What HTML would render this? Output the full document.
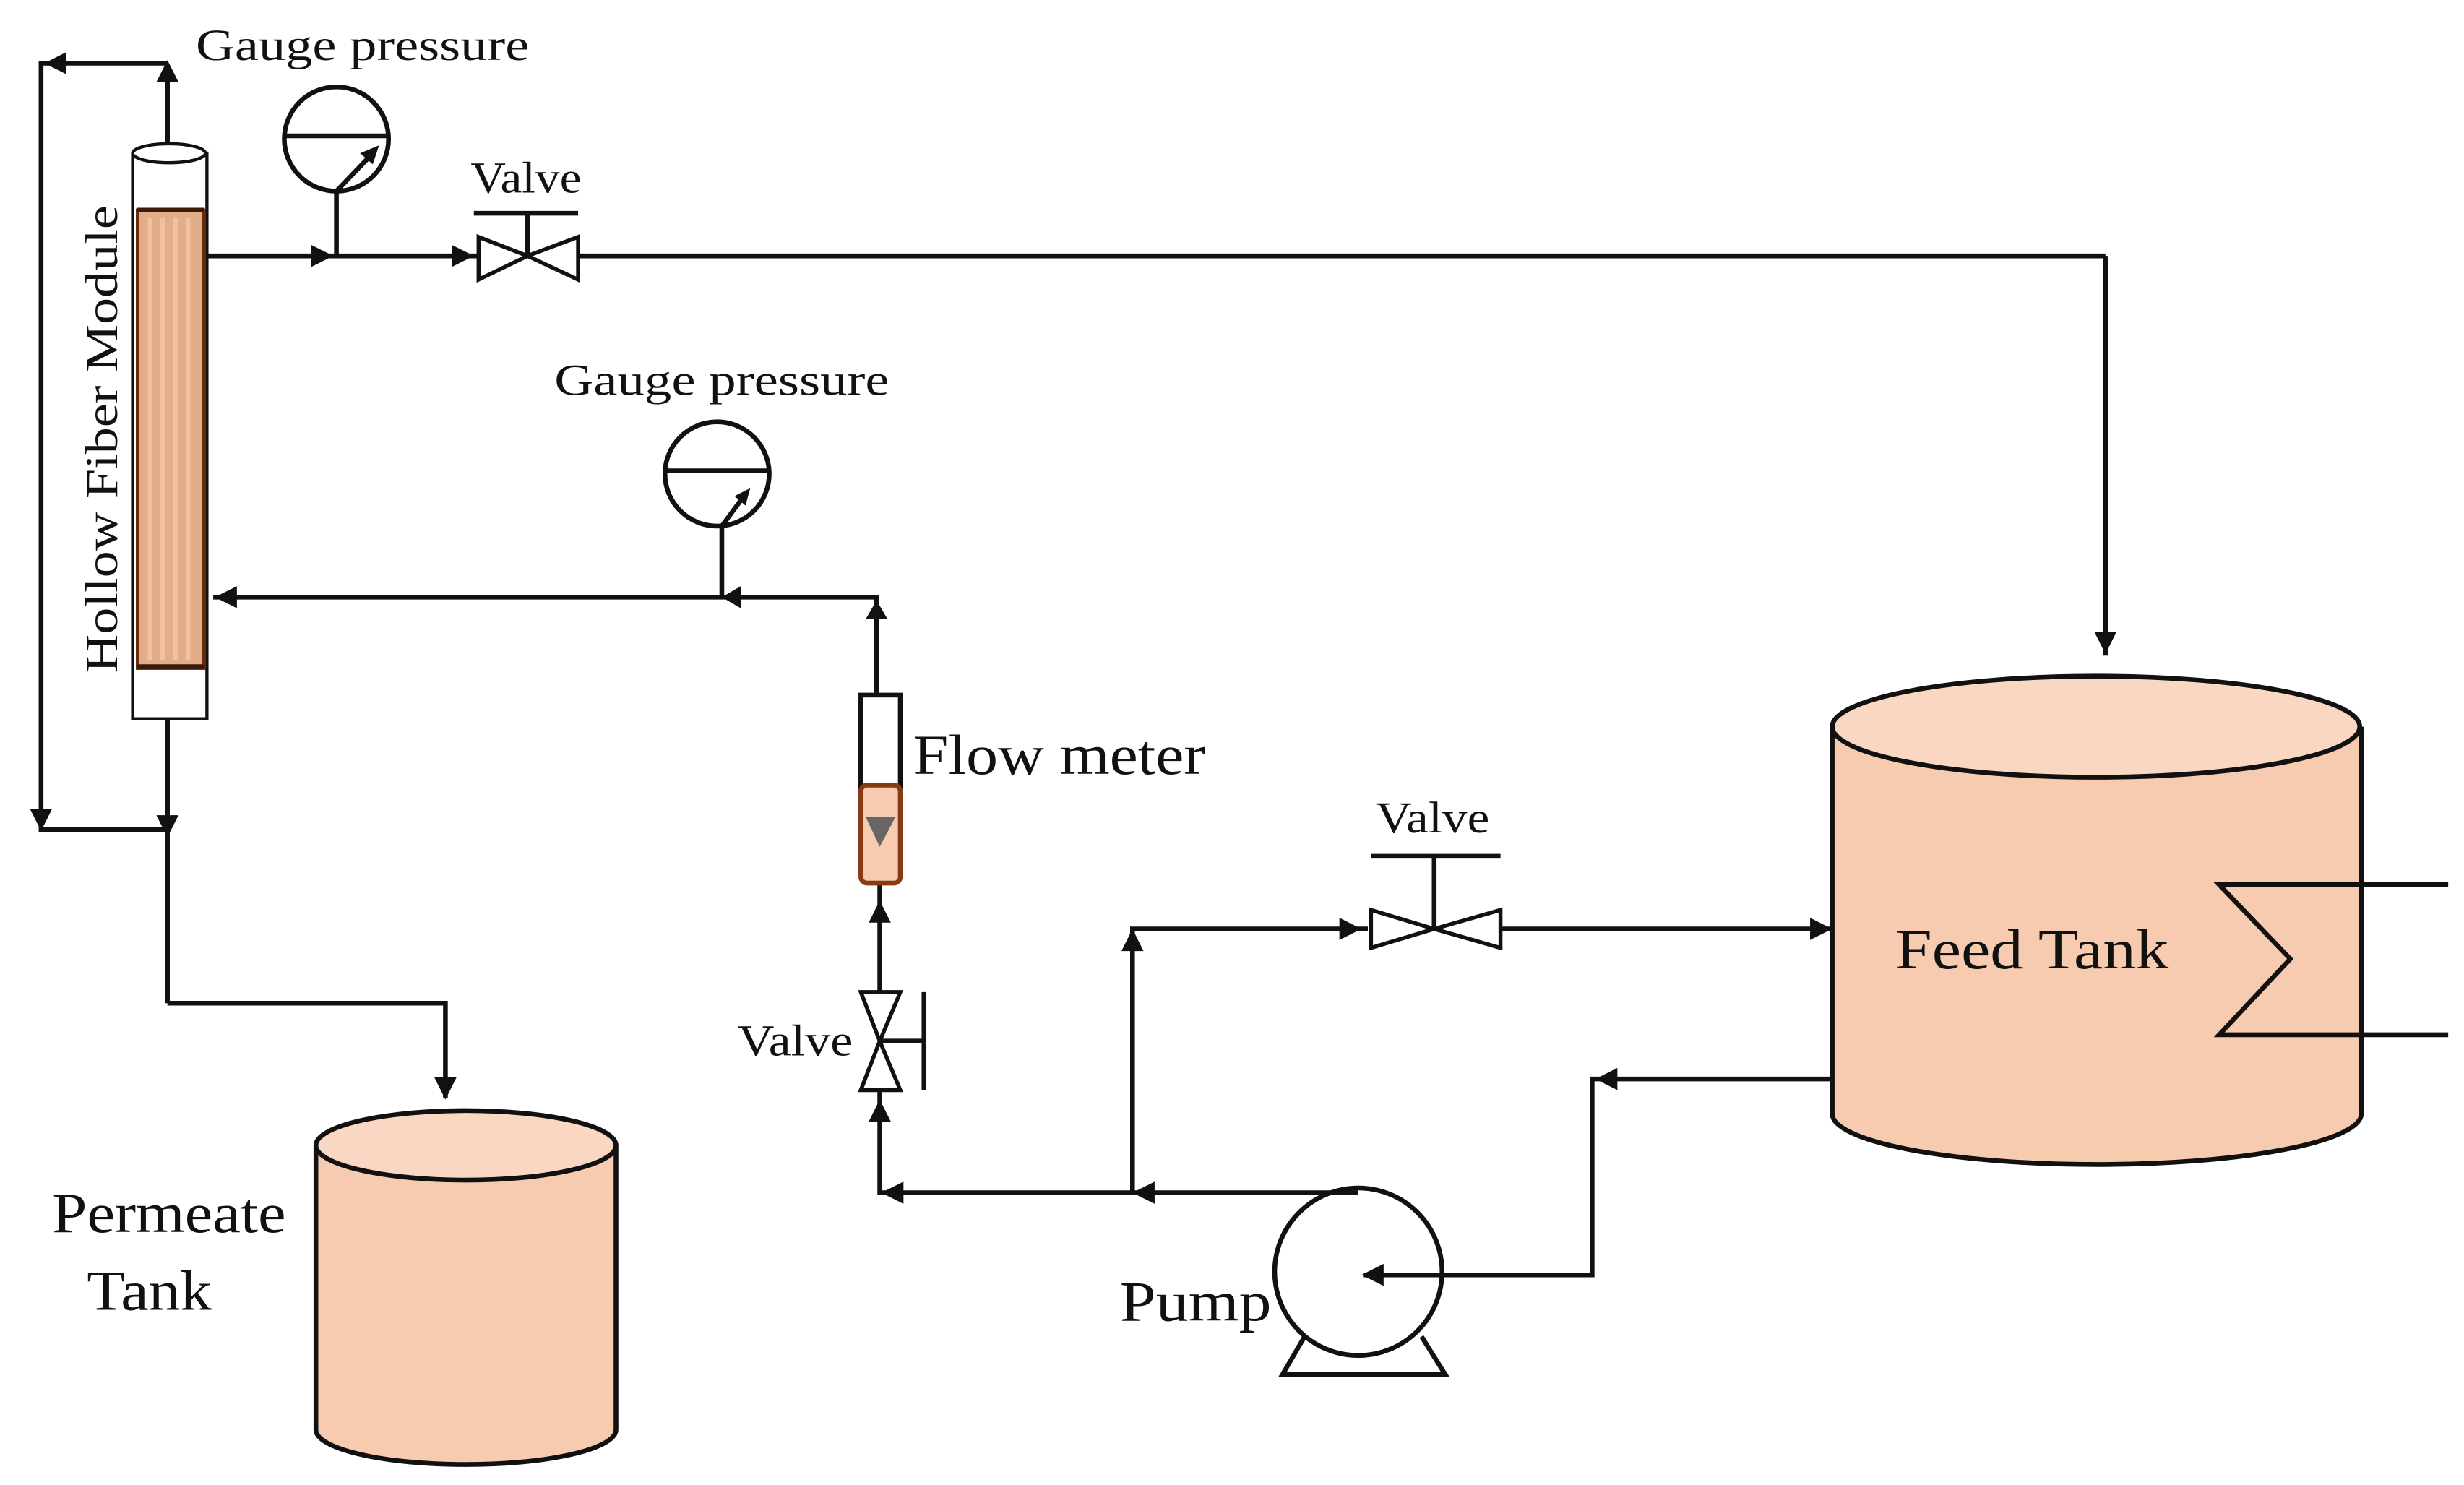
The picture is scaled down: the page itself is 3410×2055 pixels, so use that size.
<!DOCTYPE html>
<html><head><meta charset="utf-8"><style>html,body{margin:0;padding:0;background:#fff}svg{display:block}text{font-family:"Liberation Serif",serif;fill:#111}</style></head>
<body>
<svg width="3410" height="2055" viewBox="0 0 1560 940" preserveAspectRatio="none" xmlns="http://www.w3.org/2000/svg">
<g stroke="#111" stroke-width="3" fill="none">
<path d="M106,90 V42"/>
<path d="M106,40 H26 V525 H106"/>
<line x1="106" y1="455" x2="106" y2="635"/>
<path d="M106,635 H282 V695"/>
<line x1="131" y1="162" x2="1333" y2="162"/>
<line x1="1333" y1="162" x2="1333" y2="415"/>
<circle cx="213" cy="88" r="33"/>
<line x1="180" y1="86" x2="246" y2="86"/>
<line x1="213" y1="121" x2="213" y2="162"/>
<line x1="213" y1="121" x2="236" y2="97"/>
<circle cx="454" cy="300" r="33"/>
<line x1="421" y1="298" x2="487" y2="298"/>
<line x1="457" y1="333" x2="457" y2="378"/>
<line x1="457" y1="333" x2="471" y2="314"/>
<path d="M135,378 H555 V440"/>
<path d="M557,558 V628"/>
<path d="M557,690 V755 H860"/>
<path d="M717,755 V588 H866"/>
<path d="M950,588 H1160"/>
<path d="M863,807 H1008 V683 H1160"/>
</g>
<g fill="#111">
<path d="M99,52 L106,38 L113,52 z"/>
<path d="M28,40 L42,33 L42,47 z"/>
<path d="M19,512 L26,526 L33,512 z"/>
<path d="M99,516 L106,530 L113,516 z"/>
<path d="M275,682 L282,696 L289,682 z"/>
<path d="M197,155 L211,162 L197,169 z"/>
<path d="M286,155 L300,162 L286,169 z"/>
<path d="M1326,400 L1333,414 L1340,400 z"/>
<path d="M136,378 L150,371 L150,385 z"/>
<path d="M457,378 L469,371 L469,385 z"/>
<path d="M548,392 L555,380 L562,392 z"/>
<path d="M550,584 L557,570 L564,584 z"/>
<path d="M550,710 L557,696 L564,710 z"/>
<path d="M558,755 L572,748 L572,762 z"/>
<path d="M717,755 L731,748 L731,762 z"/>
<path d="M710,602 L717,588 L724,602 z"/>
<path d="M848,581 L862,588 L848,595 z"/>
<path d="M1146,581 L1160,588 L1146,595 z"/>
<path d="M1010,683 L1024,676 L1024,690 z"/>
<path d="M240,92 L236,104 L228,97 z"/>
<path d="M475,309 L472,320 L465,314 z"/>
</g>
<rect x="84" y="97" width="47" height="358" fill="#fff" stroke="#111" stroke-width="2"/>
<ellipse cx="107" cy="97" rx="23" ry="6" fill="#fff" stroke="#111" stroke-width="2"/>
<rect x="87" y="133" width="42" height="290" fill="#e4ad8a" stroke="#6b2c0c" stroke-width="2"/>
<g stroke="#efc2a2" stroke-width="3"><line x1="95" y1="138" x2="95" y2="418"/><line x1="103" y1="138" x2="103" y2="418"/><line x1="111" y1="138" x2="111" y2="418"/><line x1="119" y1="138" x2="119" y2="418"/></g>
<line x1="87" y1="133" x2="129" y2="133" stroke="#3a1a08" stroke-width="3"/>
<line x1="87" y1="422" x2="129" y2="422" stroke="#3a1a08" stroke-width="3"/>
<g stroke="#111" stroke-width="2.5" fill="#fff">
<path d="M303,150 L334,162 L303,177 z"/><path d="M366,150 L334,162 L366,177 z"/>
<path d="M868,576 L908,588 L868,600 z"/><path d="M950,576 L908,588 L950,600 z"/>
<path d="M545,628 L570,628 L557,659 z"/><path d="M545,690 L570,690 L557,659 z"/>
</g>
<g stroke="#111" stroke-width="3">
<line x1="334" y1="135" x2="334" y2="162"/><line x1="300" y1="135" x2="366" y2="135"/>
<line x1="908" y1="542" x2="908" y2="588"/><line x1="868" y1="542" x2="950" y2="542"/>
<line x1="557" y1="659" x2="585" y2="659"/><line x1="585" y1="628" x2="585" y2="690"/>
</g>
<rect x="545" y="440" width="25" height="60" fill="#fff" stroke="#111" stroke-width="3"/>
<rect x="545" y="497" width="25" height="62" rx="4" fill="#f7cbb0" stroke="#8a3a12" stroke-width="3"/>
<path d="M548,517 L567,517 L557,536 z" fill="#666"/>
<circle cx="860" cy="805" r="53" fill="none" stroke="#111" stroke-width="3"/>
<path d="M826,846 L812,870 H915 L900,846" fill="none" stroke="#111" stroke-width="3"/>
<line x1="863" y1="807" x2="1008" y2="807" stroke="#111" stroke-width="3"/>
<path d="M862,807 L876,800 L876,814 z" fill="#111"/>
<path d="M1160,460 V705 A167,32 0 0 0 1495,705 V460" fill="#f7cbb0" stroke="#111" stroke-width="3"/>
<ellipse cx="1327" cy="460" rx="167" ry="32" fill="#fad7c2" stroke="#111" stroke-width="3"/>
<path d="M1550,560 H1405 L1450,607 L1405,655 H1550" fill="none" stroke="#111" stroke-width="3"/>
<path d="M200,725 V905 A95,22 0 0 0 390,905 V725" fill="#f7cbb0" stroke="#111" stroke-width="3"/>
<ellipse cx="295" cy="725" rx="95" ry="22" fill="#fad7c2" stroke="#111" stroke-width="3"/>
<text x="124" y="38" font-size="28" textLength="211" lengthAdjust="spacingAndGlyphs">Gauge  pressure</text>
<text x="298" y="122" font-size="28" textLength="70" lengthAdjust="spacingAndGlyphs">Valve</text>
<text x="351" y="250" font-size="28" textLength="212" lengthAdjust="spacingAndGlyphs">Gauge  pressure</text>
<text x="578" y="490" font-size="36" textLength="185" lengthAdjust="spacingAndGlyphs">Flow meter</text>
<text x="871" y="527" font-size="28" textLength="72" lengthAdjust="spacingAndGlyphs">Valve</text>
<text x="467" y="668" font-size="28" textLength="73" lengthAdjust="spacingAndGlyphs">Valve</text>
<text x="709" y="836" font-size="36" textLength="96" lengthAdjust="spacingAndGlyphs">Pump</text>
<text x="33" y="780" font-size="36" textLength="148" lengthAdjust="spacingAndGlyphs">Permeate</text>
<text x="55" y="829" font-size="36" textLength="79" lengthAdjust="spacingAndGlyphs">Tank</text>
<text x="1200" y="613" font-size="36" textLength="173" lengthAdjust="spacingAndGlyphs">Feed Tank</text>
<text transform="translate(74,278) rotate(-90)" text-anchor="middle" font-size="29" textLength="296" lengthAdjust="spacingAndGlyphs" x="0" y="0">Hollow  Fiber  Module</text>
</svg>
</body></html>
